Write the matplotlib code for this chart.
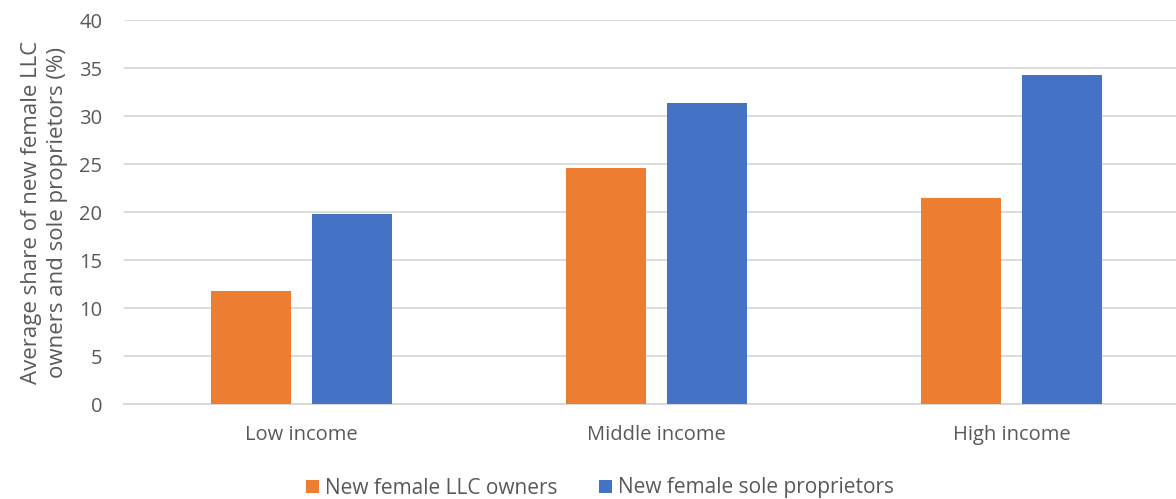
import matplotlib
matplotlib.use("Agg")
import matplotlib.pyplot as plt
import numpy as np

categories = ["Low income", "Middle income", "High income"]
llc_owners = [11.8, 24.6, 21.5]
sole_props = [19.8, 31.4, 34.3]
series_names = ["New female LLC owners", "New female sole proprietors"]
yticks = [0, 5, 10, 15, 20, 25, 30, 35, 40]

ORANGE = "#ED7D31"
BLUE = "#4472C4"
GRID = "#D9D9D9"
TXT = "#595959"

plt.rcParams["font.family"] = ["Open Sans", "DejaVu Sans"]

fig = plt.figure(figsize=(11.76, 4.99), dpi=100)
ax = fig.add_axes([124 / 1176, 94.7 / 499, 1065 / 1176, 384 / 499])

x = np.arange(len(categories))
w = 0.225
off = 0.143
ax.bar(x - off, llc_owners, w, color=ORANGE, label=series_names[0], zorder=3)
ax.bar(x + off, sole_props, w, color=BLUE, label=series_names[1], zorder=3)

ax.set_xlim(-0.5, 2.5)
ax.set_ylim(0, 40)
ax.set_yticks(yticks)
ax.set_xticks(x)
ax.set_xticklabels(categories, fontsize=14.5)
ax.grid(axis="y", color=GRID, lw=1.3, zorder=0)
for s in ["top", "right", "left"]:
    ax.spines[s].set_visible(False)
ax.spines["bottom"].set_color(GRID)
ax.spines["bottom"].set_linewidth(1.5)
ax.tick_params(axis="both", length=0, colors=TXT)
ax.tick_params(axis="y", pad=15.5, labelsize=14.5)
ax.tick_params(axis="x", pad=15)
ax.set_ylabel("Average share of new female LLC\nowners and sole proprietors (%)",
              fontsize=16, color=TXT, labelpad=8, linespacing=1.3)

fig.legend(loc="center", bbox_to_anchor=(600 / 1176, 1 - 488 / 499), ncol=2,
           frameon=False, fontsize=15, handlelength=0.6, handleheight=0.6,
           handletextpad=0.3, columnspacing=2.0, labelcolor=TXT)

fig.savefig("out.png", dpi=100, facecolor="white")
